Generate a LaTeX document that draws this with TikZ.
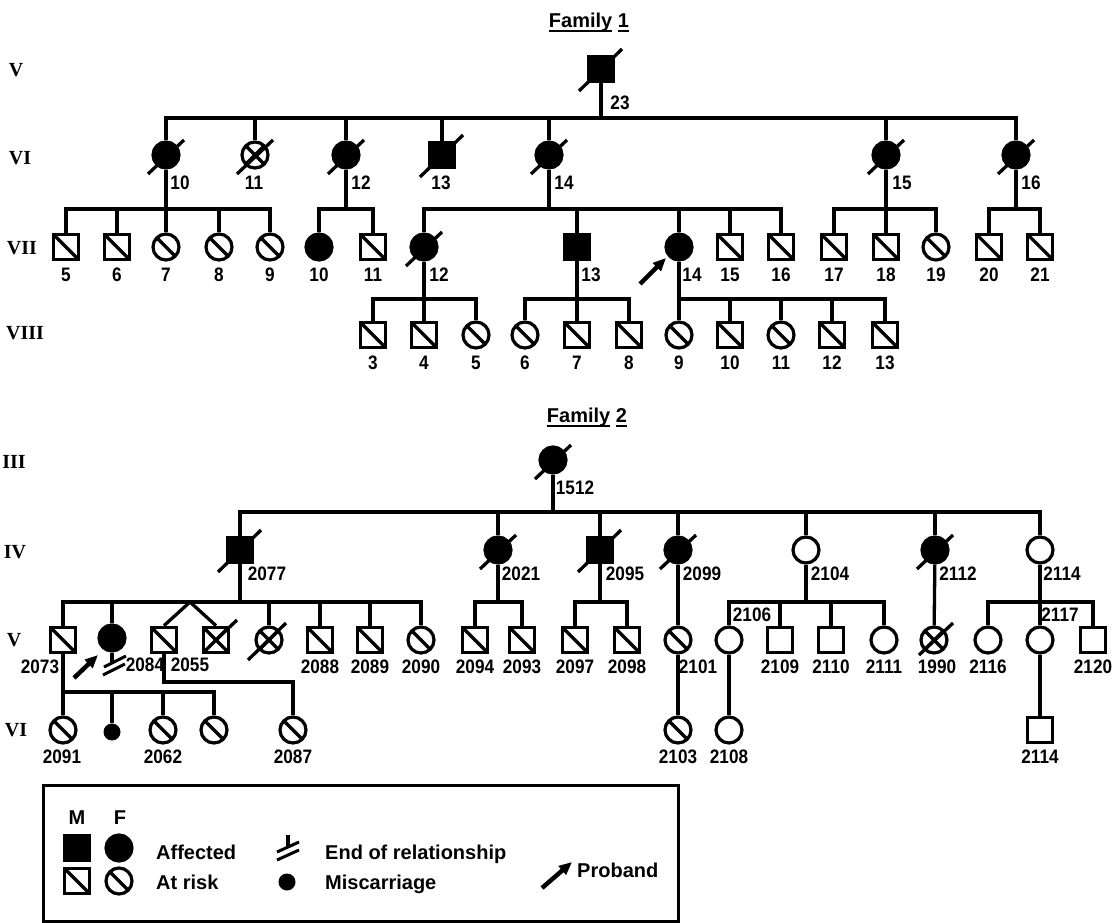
\documentclass[tikz,border=0pt]{standalone}
\usepackage{fontspec}
\setmainfont{Liberation Sans}
\newfontfamily\numfont{Liberation Sans}[FakeStretch=0.88]
\newfontfamily\genfont{Liberation Serif}
\usetikzlibrary{calc,arrows.meta}
\newcommand\myul[1]{\setbox0\hbox{#1}\rlap{\rule[-4.5pt]{\wd0}{2pt}}\box0\relax}
\newcommand\deadF[1]{\draw[ln] ($(#1.center)+(-18,19)$) -- ($(#1.center)+(18,-15)$);}
\newcommand\deadM[1]{\draw[ln] ($(#1.center)+(-22,22)$) -- ($(#1.center)+(21,-20)$);}
\tikzset{
 ln/.style={line width=3.3pt},
 ind/.style={draw, line width=3.2pt, inner sep=0pt, fill=white},
 male/.style={ind, rectangle, minimum size=25.5pt},
 fem/.style={ind, circle, minimum size=26pt},
 aff/.style={fill=black},
 risk/.style={path picture={\draw[line width=3.2pt] (path picture bounding box.north west) -- (path picture bounding box.south east);}},
 crossed/.style={path picture={\draw[line width=3.2pt] (path picture bounding box.north west) -- (path picture bounding box.south east) (path picture bounding box.north east) -- (path picture bounding box.south west);}},
 num/.style={font=\numfont\bfseries\fontsize{19.5}{19.5}\selectfont, inner sep=0pt},
 gen/.style={font=\genfont\bfseries\fontsize{20}{20}\selectfont, inner sep=0pt},
 leg/.style={font=\bfseries\fontsize{20}{20}\selectfont, inner sep=0pt, anchor=base west},
 ttl/.style={font=\bfseries\fontsize{20}{20}\selectfont, inner sep=0pt, anchor=base},
 proband/.style={line width=4.5pt, -{Triangle[length=13pt,width=11pt]}},
 misc/.style={circle, fill=black, minimum size=17pt, inner sep=0pt},
}
\begin{document}
\begin{tikzpicture}[x=1pt,y=-1pt]
\useasboundingbox (0,0) rectangle (1113,923);

% ---------------- Family 1 ----------------
\node[ttl] (t1) at (589,28) {\myul{Family} \myul{1}};
\node[gen] (gV) at (16,70) {V};
\node[gen] (gVI) at (20,158) {VI};
\node[gen] (gVII) at (22,248) {VII};
\node[gen] (gVIII) at (25,333) {VIII};

\node[male,aff] (v23) at (601,69) {};
\node[num] (l23) at (620,103) {23};

\node[fem,aff] (vi10) at (166,155) {};
\node[fem,crossed] (vi11) at (255,155) {};
\node[fem,aff] (vi12) at (346,155) {};
\node[male,aff] (vi13) at (442,155) {};
\node[fem,aff] (vi14) at (549,155) {};
\node[fem,aff] (vi15) at (886,155) {};
\node[fem,aff] (vi16) at (1016,155) {};
\node[num] (l610) at (180,183) {10};
\node[num] (l611) at (254,183) {11};
\node[num] (l612) at (361,183) {12};
\node[num] (l613) at (441,183) {13};
\node[num] (l614) at (564,183) {14};
\node[num] (l615) at (902,183) {15};
\node[num] (l616) at (1031,183) {16};

\node[male,risk] (vii5) at (66,247) {};
\node[male,risk] (vii6) at (117,247) {};
\node[fem,risk] (vii7) at (166,247) {};
\node[fem,risk] (vii8) at (219,247) {};
\node[fem,risk] (vii9) at (270,247) {};
\node[fem,aff] (vii10) at (319,247) {};
\node[male,risk] (vii11) at (373,247) {};
\node[fem,aff] (vii12) at (424,247) {};
\node[male,aff] (vii13) at (577,247) {};
\node[fem,aff] (vii14) at (679,247) {};
\node[male,risk] (vii15) at (730,247) {};
\node[male,risk] (vii16) at (781,247) {};
\node[male,risk] (vii17) at (834,247) {};
\node[male,risk] (vii18) at (886,247) {};
\node[fem,risk] (vii19) at (936,247) {};
\node[male,risk] (vii20) at (989,247) {};
\node[male,risk] (vii21) at (1040,247) {};
\node[num] (l75) at (66,275) {5};
\node[num] (l76) at (117,275) {6};
\node[num] (l77) at (166,275) {7};
\node[num] (l78) at (219,275) {8};
\node[num] (l79) at (270,275) {9};
\node[num] (l710) at (319,275) {10};
\node[num] (l711) at (373,275) {11};
\node[num] (l712) at (439,275) {12};
\node[num] (l713) at (591,275) {13};
\node[num] (l714) at (692,275) {14};
\node[num] (l715) at (730,275) {15};
\node[num] (l716) at (781,275) {16};
\node[num] (l717) at (834,275) {17};
\node[num] (l718) at (886,275) {18};
\node[num] (l719) at (936,275) {19};
\node[num] (l720) at (989,275) {20};
\node[num] (l721) at (1040,275) {21};

\node[male,risk] (viii3) at (373,335) {};
\node[male,risk] (viii4) at (424,335) {};
\node[fem,risk] (viii5) at (476,335) {};
\node[fem,risk] (viii6) at (525,335) {};
\node[male,risk] (viii7) at (577,335) {};
\node[male,risk] (viii8) at (629,335) {};
\node[fem,risk] (viii9) at (679,335) {};
\node[male,risk] (viii10) at (730,335) {};
\node[fem,risk] (viii11) at (781,335) {};
\node[male,risk] (viii12) at (832,335) {};
\node[male,risk] (viii13) at (885,335) {};
\node[num] (l83) at (373,363) {3};
\node[num] (l84) at (424,363) {4};
\node[num] (l85) at (476,363) {5};
\node[num] (l86) at (525,363) {6};
\node[num] (l87) at (577,363) {7};
\node[num] (l88) at (629,363) {8};
\node[num] (l89) at (679,363) {9};
\node[num] (l810) at (730,363) {10};
\node[num] (l811) at (781,363) {11};
\node[num] (l812) at (832,363) {12};
\node[num] (l813) at (885,363) {13};

% connectors family 1
\coordinate (f1s1) at (601,118);
\draw[ln] (v23) -- (f1s1);
\draw[ln] (vi10.north) |- (f1s1) -| (vi16.north);
\foreach \n in {vi11,vi12,vi13,vi14,vi15} \draw[ln] (\n) -- (\n |- f1s1);

\coordinate (f1s2) at (166,209);
\draw[ln] (vi10) -- (f1s2);
\draw[ln] (vii5.north) |- (f1s2) -| (vii9.north);
\foreach \n in {vii6,vii7,vii8} \draw[ln] (\n) -- (\n |- f1s2);
\coordinate (f1s3) at (346,209);
\draw[ln] (vi12) -- (f1s3);
\draw[ln] (vii10.north) |- (f1s3) -| (vii11.north);
\coordinate (f1s4) at (549,209);
\draw[ln] (vi14) -- (f1s4);
\draw[ln] (vii12.north) |- (f1s4) -| (vii16.north);
\foreach \n in {vii13,vii14,vii15} \draw[ln] (\n) -- (\n |- f1s4);
\coordinate (f1s5) at (886,209);
\draw[ln] (vi15) -- (f1s5);
\draw[ln] (vii17.north) |- (f1s5) -| (vii19.north);
\draw[ln] (vii18) -- (vii18 |- f1s5);
\coordinate (f1s6) at (1016,209);
\draw[ln] (vi16) -- (f1s6);
\draw[ln] (vii20.north) |- (f1s6) -| (vii21.north);

\coordinate (f1s7) at (424,299);
\draw[ln] (vii12) -- (f1s7);
\draw[ln] (viii3.north) |- (f1s7) -| (viii5.north);
\draw[ln] (viii4) -- (viii4 |- f1s7);
\coordinate (f1s8) at (577,299);
\draw[ln] (vii13) -- (f1s8);
\draw[ln] (viii6.north) |- (f1s8) -| (viii8.north);
\draw[ln] (viii7) -- (viii7 |- f1s8);
\coordinate (f1s9) at (679,299);
\draw[ln] (vii14) -- (viii9);
\draw[ln] (f1s9) -| (viii13.north);
\foreach \n in {viii10,viii11,viii12} \draw[ln] (\n) -- (\n |- f1s9);

\deadM{v23}
\deadF{vi10} \deadF{vi11} \deadF{vi12} \deadM{vi13} \deadF{vi14} \deadF{vi15} \deadF{vi16}
\deadF{vii12}
\coordinate (pa1) at (640,284); \coordinate (pa1t) at (666,258);
\draw[proband] (pa1) -- (pa1t);

% ---------------- Family 2 ----------------
\node[ttl] (t2) at (587,422) {\myul{Family} \myul{2}};
\node[gen] (gIII) at (14,462) {III};
\node[gen] (gIV) at (15,552) {IV};
\node[gen] (gV2) at (14,640) {V};
\node[gen] (gVI2) at (16,730) {VI};

\node[fem,aff] (iii1512) at (553,460) {};
\node[num] (l1512) at (575,488) {1512};

\node[male,aff] (iv2077) at (240,550) {};
\node[fem,aff] (iv2021) at (498,550) {};
\node[male,aff] (iv2095) at (600,550) {};
\node[fem,aff] (iv2099) at (678,550) {};
\node[fem] (iv2104) at (806,550) {};
\node[fem,aff] (iv2112) at (935,550) {};
\node[fem] (iv2114) at (1040,550) {};
\node[num] (l2077) at (267,574) {2077};
\node[num] (l2021) at (521,574) {2021};
\node[num] (l2095) at (625,574) {2095};
\node[num] (l2099) at (702,574) {2099};
\node[num] (l2104) at (830,574) {2104};
\node[num] (l2112) at (958,574) {2112};
\node[num] (l2114a) at (1062,574) {2114};

\node[male,risk] (v2073) at (63,640) {};
\node[fem,aff] (v2084) at (112,638) {};
\node[male,risk] (v2055) at (164,640) {};
\node[male,crossed] (vtw) at (216,640) {};
\node[fem,crossed] (vdx) at (269,640) {};
\node[male,risk] (v2088) at (320,640) {};
\node[male,risk] (v2089) at (370,640) {};
\node[fem,risk] (v2090) at (421,640) {};
\node[male,risk] (v2094) at (475,640) {};
\node[male,risk] (v2093) at (522,640) {};
\node[male,risk] (v2097) at (575,640) {};
\node[male,risk] (v2098) at (627,640) {};
\node[fem,risk] (v2101) at (678,640) {};
\node[fem] (v2106) at (729,640) {};
\node[male] (v2109) at (780,640) {};
\node[male] (v2110) at (831,640) {};
\node[fem] (v2111) at (884,640) {};
\node[fem,crossed] (v1990) at (934,640) {};
\node[fem] (v2116) at (988,640) {};
\node[fem] (v2117) at (1040,640) {};
\node[male] (v2120) at (1093,640) {};
\node[num] (l2073) at (40,667) {2073};
\node[num] (l2084) at (145,665) {2084};
\node[num] (l2055) at (190,665) {2055};
\node[num] (l2088) at (320,667) {2088};
\node[num] (l2089) at (370,667) {2089};
\node[num] (l2090) at (421,667) {2090};
\node[num] (l2094) at (475,667) {2094};
\node[num] (l2093) at (522,667) {2093};
\node[num] (l2097) at (575,667) {2097};
\node[num] (l2098) at (627,667) {2098};
\node[num] (l2101) at (698,667) {2101};
\node[num] (l2106) at (752,615) {2106};
\node[num] (l2109) at (780,667) {2109};
\node[num] (l2110) at (831,667) {2110};
\node[num] (l2111) at (884,667) {2111};
\node[num] (l1990) at (937,667) {1990};
\node[num] (l2116) at (988,667) {2116};
\node[num] (l2117) at (1060,615) {2117};
\node[num] (l2120) at (1093,667) {2120};

\node[fem,risk] (vi2091) at (63,730) {};
\node[misc] (misc1) at (112,732) {};
\node[fem,risk] (vi2062) at (163,730) {};
\node[fem,risk] (vi2063) at (214,730) {};
\node[fem,risk] (vi2087) at (293,730) {};
\node[fem,risk] (vi2103) at (678,730) {};
\node[fem] (vi2108) at (729,730) {};
\node[male] (vi2114) at (1040,730) {};
\node[num] (l2091) at (62,757) {2091};
\node[num] (l2062) at (163,757) {2062};
\node[num] (l2087) at (293,757) {2087};
\node[num] (l2103) at (678,757) {2103};
\node[num] (l2108) at (729,757) {2108};
\node[num] (l2114b) at (1040,757) {2114};

% connectors family 2
\coordinate (f2s1) at (553,512);
\draw[ln] (iii1512) -- (f2s1);
\draw[ln] (iv2077.north) |- (f2s1) -| (iv2114.north);
\foreach \n in {iv2021,iv2095,iv2099,iv2104,iv2112} \draw[ln] (\n) -- (\n |- f2s1);

\coordinate (f2s2) at (240,602);
\coordinate (tw) at (190,602);
\draw[ln] (iv2077) -- (f2s2);
\draw[ln] (v2073.north) |- (f2s2) -| (v2090.north);
\foreach \n in {v2084,vdx,v2088,v2089} \draw[ln] (\n) -- (\n |- f2s2);
\draw[ln] (v2055.north) -- (tw) -- (vtw.north);
\coordinate (f2s3) at (498,602);
\draw[ln] (iv2021) -- (f2s3);
\draw[ln] (v2094.north) |- (f2s3) -| (v2093.north);
\coordinate (f2s4) at (600,602);
\draw[ln] (iv2095) -- (f2s4);
\draw[ln] (v2097.north) |- (f2s4) -| (v2098.north);
\draw[ln] (iv2099) -- (v2101);
\draw[ln] (v2101) -- (vi2103);
\coordinate (f2s5) at (806,602);
\draw[ln] (iv2104) -- (f2s5);
\draw[ln] (v2106.north) |- (f2s5) -| (v2111.north);
\foreach \n in {v2109,v2110} \draw[ln] (\n) -- (\n |- f2s5);
\draw[ln] (v2106) -- (vi2108);
\draw[ln] (iv2112) -- (v1990);
\coordinate (f2s6) at (1040,602);
\draw[ln] (iv2114) -- (f2s6);
\draw[ln] (v2116.north) |- (f2s6) -| (v2120.north);
\draw[ln] (v2117) -- (v2117 |- f2s6);
\draw[ln] (v2117) -- (vi2114);

\coordinate (f2s7) at (63,692);
\draw[ln] (v2073) -- (vi2091);
\draw[ln] (f2s7) -| (vi2063.north);
\foreach \n in {misc1,vi2062} \draw[ln] (\n) -- (\n |- f2s7);
\coordinate (f2k) at (164,682);
\draw[ln] (v2055) -- (f2k) -| (vi2087.north);

% end of relationship at 2084
\coordinate (er) at (112,662);
\draw[ln] (v2084) -- (er);
\draw[line width=3pt] (104,667) -- (126,656) (103,675) -- (125,664);

\deadF{iii1512}
\deadM{iv2077} \deadF{iv2021} \deadM{iv2095} \deadF{iv2099} \deadF{iv2112}
\draw[ln] (vtw.center) -- ($(vtw.center)+(21,-20)$);
\draw[ln] ($(vdx.center)+(-21,20)$) -- ($(vdx.center)+(17,-17)$);
\draw[ln] ($(v1990.center)+(-15,15)$) -- ($(v1990.center)+(19,-17)$);
\coordinate (pa2) at (74,678); \coordinate (pa2t) at (98,655);
\draw[proband] (pa2) -- (pa2t);

% ---------------- Legend ----------------
\node[draw, line width=3pt, inner sep=0pt, minimum width=635pt, minimum height=136pt] (legend) at (360.5,853) {};
\node[ttl] (lgM) at (77,824) {M};
\node[ttl] (lgF) at (120,824) {F};
\node[male,aff] (lm1) at (77,848) {};
\node[fem,aff] (lf1) at (119,848) {};
\node[male,risk] (lm2) at (77,881) {};
\node[fem,risk] (lf2) at (119,881) {};
\node[leg] (laff) at (156,859) {Affected};
\node[leg] (lrisk) at (156,889) {At risk};
\coordinate (ler) at (288,835);
\draw[ln] (ler) -- (288,847);
\draw[line width=3pt] (277,852) -- (299,842) (277,860) -- (299,850);
\node[leg] (lend) at (325,859) {End of relationship};
\node[misc] (lmisc) at (287,882) {};
\node[leg] (lmis) at (325,889) {Miscarriage};
\coordinate (pa3) at (542,888); \coordinate (pa3t) at (572,862);
\draw[proband] (pa3) -- (pa3t);
\node[leg] (lprob) at (577,877) {Proband};
\end{tikzpicture}
\end{document}
